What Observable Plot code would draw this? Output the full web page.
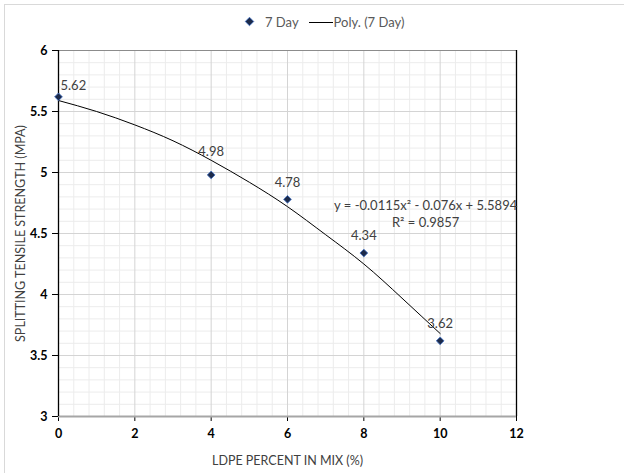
<!DOCTYPE html>
<html>
<head>
<meta charset="utf-8">
<script src="https://cdn.jsdelivr.net/npm/d3@7"></script>
<script src="https://cdn.jsdelivr.net/npm/@observablehq/plot@0.6"></script>
<style>
  html, body { margin: 0; padding: 0; background: #fff; overflow: hidden; width: 624px; height: 473px; }
  #wrap { position: relative; width: 624px; height: 473px; font-family: Lato, "Open Sans", sans-serif; }
  #border { position: absolute; left: 4px; top: 4px; width: 700px; height: 560px; border: 1px solid #d9d9d9; box-sizing: border-box; }
  #chart { position: absolute; left: 0; top: 0; }
  #legend { position: absolute; top: 14px; left: 244px; font-size: 13px; color: #595959; display: flex; align-items: center; white-space: nowrap; }
  #legend .item { display: flex; align-items: center; }
</style>
</head>
<body>
<div id="wrap">
  <div id="border"></div>
  <div id="chart"></div>
  <div id="legend"></div>
</div>
<script>
// Data
const ldpe = [0, 4, 6, 8, 10];
const strength7Day = [5.62, 4.98, 4.78, 4.34, 3.62];
const seriesName = "7 Day";
const trendName = "Poly. (7 Day)";
// trendline values
const trendX = [0, 1, 2, 3, 4, 5, 6, 7, 8, 9, 10];
const trendY = [5.59, 5.50, 5.39, 5.26, 5.10, 4.92, 4.72, 4.49, 4.25, 3.97, 3.68];
const equationLines = ["y = -0.0115x\u00B2 - 0.076x + 5.5894", "R\u00B2 = 0.9857"];
const xTicks = [0, 2, 4, 6, 8, 10, 12];
const yTicks = [3, 3.5, 4, 4.5, 5, 5.5, 6];
const xLabel = "LDPE PERCENT IN MIX (%)";
const yLabel = "SPLITTING TENSILE STRENGTH (MPA)";

const points = ldpe.map((x, i) => ({x, y: strength7Day[i], i}));
const trend = trendX.map((x, i) => ({x, y: trendY[i]}));
const eq = [{x: 9.62, y: 4.73, t: equationLines[0]}, {x: 9.62, y: 4.59, t: equationLines[1]}];

const minorX = d3.range(0, 12.001, 0.4).filter(v => Math.abs(v / 2 - Math.round(v / 2)) > 1e-6);
const minorY = d3.range(3, 6.001, 0.1).filter(v => Math.abs(v / 0.5 - Math.round(v / 0.5)) > 1e-6);
const majorX = xTicks.filter(v => v > 0 && v < 12);
const majorY = yTicks.filter(v => v > 3 && v < 6);

const navy = "#1c2a4a";
const diamondStroke = "#4472c4";
const lbl = d => d.y.toFixed(2);

const chart = Plot.plot({
  width: 624,
  height: 473,
  marginLeft: 58,
  marginRight: 108,
  marginTop: 50,
  marginBottom: 57,
  style: {fontFamily: "Lato, 'Open Sans', sans-serif", background: "transparent"},
  x: {domain: [0, 12]},
  y: {domain: [3, 6]},
  marks: [
    Plot.ruleX(minorX, {stroke: "#ececec", strokeWidth: 1}),
    Plot.ruleY(minorY, {stroke: "#ececec", strokeWidth: 1}),
    Plot.ruleX(majorX, {stroke: "#d4d4d4", strokeWidth: 1}),
    Plot.ruleY(majorY, {stroke: "#d4d4d4", strokeWidth: 1}),
    Plot.ruleY([6], {stroke: "#8c8c8c", strokeWidth: 1}),
    Plot.ruleX([12], {stroke: "#000", strokeWidth: 1.3}),
    Plot.axisX({ticks: xTicks, tickSize: 5, tickPadding: 8, tickFormat: d3.format("d"),
      fontWeight: "bold", fontSize: 12.5, color: "#000", label: xLabel, labelAnchor: "center",
      labelArrow: "none", labelOffset: 48}),
    Plot.axisY({ticks: yTicks, tickSize: 6, tickPadding: 5, tickFormat: d => String(d),
      fontWeight: "bold", fontSize: 12.5, color: "#000", label: yLabel, labelAnchor: "center",
      labelArrow: "none", labelOffset: 42}),
    Plot.ruleY([3], {stroke: "#a6a6a6", strokeWidth: 2}),
    Plot.ruleX([0], {stroke: "#000", strokeWidth: 1.3}),
    Plot.line(trend, {x: "x", y: "y", stroke: "#000", strokeWidth: 1, curve: "natural"}),
    Plot.dot(points, {x: "x", y: "y", symbol: "square", r: 3.1, rotate: 45, fill: navy, stroke: diamondStroke, strokeWidth: 0.8}),
    Plot.text(points.filter(d => d.i === 0), {x: "x", y: "y", text: lbl, textAnchor: "start", dx: 2, dy: -11, fontSize: 13, fill: "#404040"}),
    Plot.text(points.filter(d => d.i === 1), {x: "x", y: "y", text: lbl, dy: -23, fontSize: 13, fill: "#404040"}),
    Plot.text(points.filter(d => d.i > 1), {x: "x", y: "y", text: lbl, dy: -17, fontSize: 13, fill: "#404040"}),
    Plot.text(eq, {x: "x", y: "y", text: "t", fontSize: 13, fill: "#404040"})
  ]
});
chart.querySelectorAll("g[aria-label='x-axis label'] text, g[aria-label='y-axis label'] text").forEach(t => {
  t.setAttribute("font-weight", "normal");
  t.setAttribute("fill", "#404040");
  t.style.fontSize = "12.5px";
});
document.getElementById("chart").appendChild(chart);

// Legend
const legend = document.getElementById("legend");
legend.innerHTML = `
  <span class="item"><svg width="12" height="12"><rect x="2.5" y="2.5" width="6" height="6" transform="rotate(45 5.5 5.5)" fill="${navy}" stroke="${diamondStroke}" stroke-width="0.8"/></svg><span style="margin-left:9px">${seriesName}</span></span>
  <span class="item" style="margin-left:10px"><svg width="24" height="12"><line x1="0" x2="24" y1="6.5" y2="6.5" stroke="#000" stroke-width="1"/></svg><span style="margin-left:1px">${trendName}</span></span>`;
</script>
</body>
</html>
